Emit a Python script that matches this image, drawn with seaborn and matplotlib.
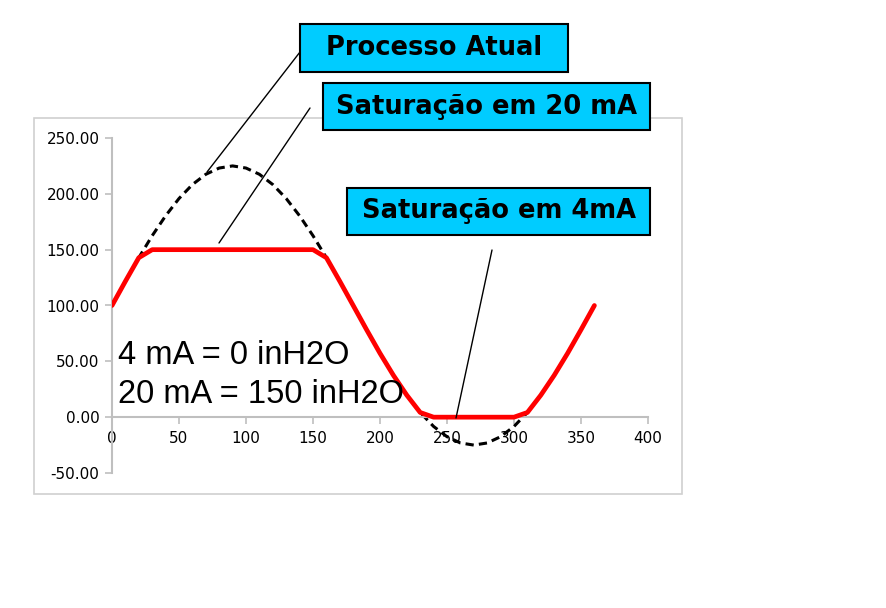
import numpy as np
import pandas as pd
import matplotlib
matplotlib.use("Agg")
import matplotlib.pyplot as plt
from matplotlib.patches import Rectangle
import seaborn as sns

# dados (passo de 10 graus)
angulo = [0, 10, 20, 30, 40, 50, 60, 70, 80, 90, 100, 110, 120, 130, 140, 150, 160, 170, 180,
          190, 200, 210, 220, 230, 240, 250, 260, 270, 280, 290, 300, 310, 320, 330, 340, 350, 360]
processo = [100.0, 121.7, 142.8, 162.5, 180.3, 195.8, 208.3, 217.5, 223.1, 225.0, 223.1, 217.5,
            208.3, 195.8, 180.3, 162.5, 142.8, 121.7, 100.0, 78.3, 57.2, 37.5, 19.7, 4.2, -8.3,
            -17.5, -23.1, -25.0, -23.1, -17.5, -8.3, 4.2, 19.7, 37.5, 57.2, 78.3, 100.0]
saida = [100.0, 121.7, 142.8, 150.0, 150.0, 150.0, 150.0, 150.0, 150.0, 150.0, 150.0, 150.0,
         150.0, 150.0, 150.0, 150.0, 142.8, 121.7, 100.0, 78.3, 57.2, 37.5, 19.7, 4.2, 0.0,
         0.0, 0.0, 0.0, 0.0, 0.0, 0.0, 4.2, 19.7, 37.5, 57.2, 78.3, 100.0]
x_ticks = [0, 50, 100, 150, 200, 250, 300, 350, 400]
y_ticks = [-50, 0, 50, 100, 150, 200, 250]

df = pd.DataFrame({"angulo": angulo, "processo": processo, "saida": saida})

sns.set_style("white")
plt.rcParams["font.family"] = ["Liberation Sans", "DejaVu Sans"]

W, H = 886, 608
fig = plt.figure(figsize=(W / 100, H / 100), dpi=100)

def fx(px):
    return px / W

def fy(py):
    return 1 - py / H

# borda da área do gráfico
fig.patches.append(Rectangle((fx(34), fy(494)), fx(682) - fx(34), fy(118) - fy(494),
                             transform=fig.transFigure, fill=False, edgecolor="#d0d0d0", lw=1.2))

ax = fig.add_axes([fx(112), fy(473), fx(648) - fx(112), fy(138) - fy(473)])
ax.set_facecolor("none")

sns.lineplot(data=df, x="angulo", y="processo", ax=ax, color="black", lw=2.2,
             linestyle=(0, (2.7, 1.7)), zorder=2)
sns.lineplot(data=df, x="angulo", y="saida", ax=ax, color="#ff0000", lw=3.4, zorder=3)

ax.set_xlim(0, 400)
ax.set_ylim(-50, 250)
ax.set_xticks(x_ticks)
ax.set_yticks(y_ticks)
ax.set_yticklabels([f"{v:.2f}" for v in y_ticks])
ax.set_xlabel("")
ax.set_ylabel("")
for s in ["top", "right"]:
    ax.spines[s].set_visible(False)
ax.spines["bottom"].set_position(("data", 0))
ax.spines["left"].set_position(("data", 0))
for s in ["bottom", "left"]:
    ax.spines[s].set_color("#bfbfbf")
    ax.spines[s].set_linewidth(1.5)
ax.tick_params(axis="both", which="both", length=5, width=1.2, color="#bfbfbf",
               labelsize=11, labelcolor="black", direction="out")
ax.tick_params(axis="x", bottom=True, pad=5)
ax.tick_params(axis="y", left=True, pad=4)
for lbl in ax.get_xticklabels() + ax.get_yticklabels():
    lbl.set_family("DejaVu Sans")

# texto de escala
ax.text(0.012, 0.352, "4 mA = 0 inH2O", transform=ax.transAxes, fontsize=23.5, color="black",
        va="center", ha="left")
ax.text(0.012, 0.233, "20 mA = 150 inH2O", transform=ax.transAxes, fontsize=23.5, color="black",
        va="center", ha="left")

# caixas de destaque
caixas = [
    ("Processo Atual", 300, 24, 568, 72),
    ("Saturação em 20 mA", 323, 83, 650, 130),
    ("Saturação em 4mA", 347, 188, 650, 235),
]
for txt, x0, y0, x1, y1 in caixas:
    fig.patches.append(Rectangle((fx(x0), fy(y1)), fx(x1) - fx(x0), fy(y0) - fy(y1),
                                 transform=fig.transFigure, facecolor="#00ccff",
                                 edgecolor="black", lw=1.5, zorder=5))
    fig.text(fx((x0 + x1) / 2), fy((y0 + y1) / 2), txt, ha="center", va="center",
             fontsize=18.5, fontweight="bold", family=["DejaVu Sans"], color="black", zorder=6)

# linhas de chamada
linhas = [((300, 52), (207, 172)), ((310, 108), (219, 243)), ((492, 250), (456, 418))]
for (xa, ya), (xb, yb) in linhas:
    fig.lines.append(plt.Line2D([fx(xa), fx(xb)], [fy(ya), fy(yb)], transform=fig.transFigure,
                                color="black", lw=1.0, zorder=4))

fig.savefig("out.png", dpi=100)
